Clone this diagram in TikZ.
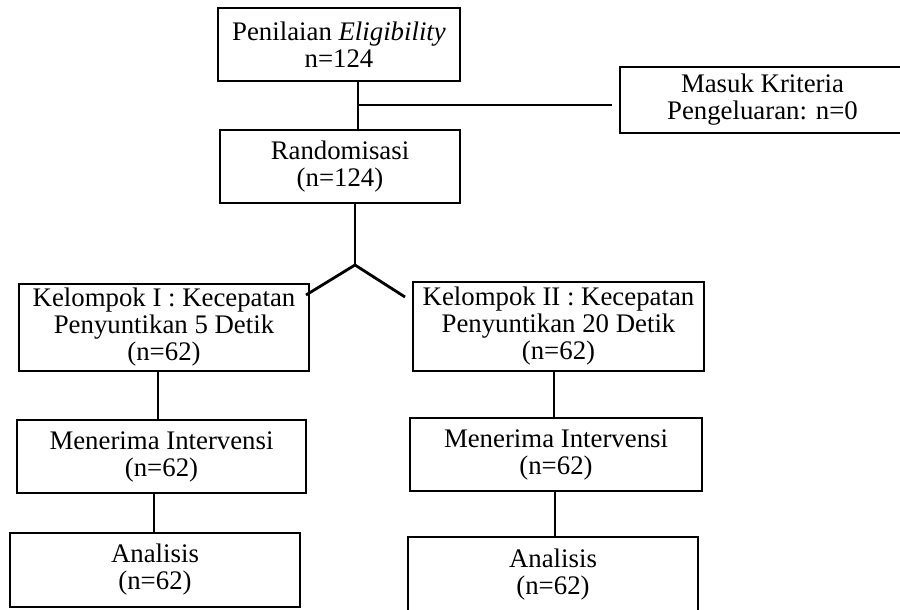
\documentclass[tikz,border=0pt]{standalone}
\usepackage{fontspec}
\setmainfont{Liberation Serif}
\tikzset{
  flow box/.style={draw,line width=1.4pt,align=center,inner sep=0pt,font=\fontsize{13.4}{13.5}\selectfont},
  flow line/.style={line width=1.4pt}
}

\begin{document}
\begin{tikzpicture}[x=0.5pt,y=-0.5pt]
\useasboundingbox (0,0) rectangle (900,610);
\clip (0,0) rectangle (900,610);
% boxes
\node [flow box,minimum width=121pt,minimum height=36.5pt] (elig) at (339,44.5) {Penilaian \textit{Eligibility}\\n=124};
\node [flow box,minimum width=142.5pt,minimum height=33pt] (excl) at (762.5,100) {Masuk Kriteria\\Pengeluaran: n=0};
\node [flow box,minimum width=120pt,minimum height=36.5pt] (rand) at (340,166.5) {Randomisasi\\(n=124)};
\node [flow box,minimum width=145pt,minimum height=43.5pt] (grpa) at (164,327.5) {Kelompok I : Kecepatan\\Penyuntikan 5 Detik\\(n=62)};
\node [flow box,minimum width=145.5pt,minimum height=44.5pt] (grpb) at (558.5,326.5) {Kelompok II : Kecepatan\\Penyuntikan 20 Detik\\(n=62)};
\node [flow box,minimum width=144.5pt,minimum height=36.5pt] (inta) at (161.5,456.5) {Menerima Intervensi\\(n=62)};
\node [flow box,minimum width=146pt,minimum height=36.5pt] (intb) at (556,454.5) {Menerima Intervensi\\(n=62)};
\node [flow box,minimum width=145pt,minimum height=37pt] (anla) at (155,570) {Analisis\\(n=62)};
\node [flow box,minimum width=145pt,minimum height=38pt] (anlb) at (553,575) {Analisis\\(n=62)};
% connectors
\coordinate (branch) at (358,105);
\coordinate (branchend) at (612,105);
\coordinate (fork) at (355,265);
\coordinate (forka) at (306,295);
\coordinate (forkb) at (405,297);
\coordinate (linka) at (158,0);
\coordinate (linkb) at (154,0);
\coordinate (linkc) at (554,0);
\coordinate (linkd) at (555,0);
\draw [flow line] (branch |- elig.south) -- (branch |- rand.north);
\draw [flow line] (branch) -- (branchend);
\draw [flow line] (fork |- rand.south) -- (fork);
\draw [flow line] (forka) -- (fork) -- (forkb);
\draw [flow line] (linka |- grpa.south) -- (linka |- inta.north);
\draw [flow line] (linkb |- inta.south) -- (linkb |- anla.north);
\draw [flow line] (linkc |- grpb.south) -- (linkc |- intb.north);
\draw [flow line] (linkd |- intb.south) -- (linkd |- anlb.north);
\end{tikzpicture}
\end{document}
